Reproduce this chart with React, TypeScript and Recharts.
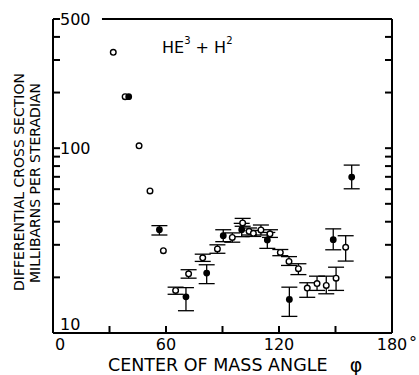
import { ScatterChart, Scatter, XAxis, YAxis, ErrorBar, ReferenceLine } from "recharts";

// open circles
const openAngles = [32, 38.3, 45.7, 51.5, 58.6, 65.1, 72, 79.5, 87.3, 95.2, 100.7, 104.1, 106.4, 110.4, 115.2, 120.7, 125.3, 130.3, 135, 140.2, 145.1, 150.3, 155.4];
const openValues = [330, 190, 103, 58.7, 27.9, 17, 20.9, 25.5, 28.5, 32.9, 39.4, 35.5, 34.6, 36.1, 34.4, 27.3, 24.4, 22.3, 17.5, 18.5, 18.1, 19.8, 29.1];
const openErrLow = [0, 0, 0, 0, 0, 0.8, 1.1, 1.1, 1.5, 1.9, 1.6, 1.6, 1.3, 2.2, 1.5, 1.1, 1.2, 1.6, 1.9, 1.5, 1.8, 2.8, 4.6];
const openErrHigh = [0, 0, 0, 0, 0, 0.7, 1.1, 1.2, 1.5, 1.9, 2.3, 1.5, 1.3, 2.3, 1.8, 1.0, 1.5, 1.4, 1.2, 1.8, 2.2, 2.9, 4.5];

// filled circles
const filledAngles = [40.2, 56.5, 70.6, 81.6, 90.4, 100.2, 113.8, 125.5, 148.8, 158.6];
const filledValues = [190, 36.2, 15.7, 21.1, 33.6, 36.2, 31.9, 15.2, 32, 69.8];
const filledErrLow = [0, 2.3, 2.5, 2.6, 2.4, 3.0, 3.2, 2.9, 3.8, 9.5];
const filledErrHigh = [0, 1.9, 1.9, 2.3, 2.6, 3.0, 3.1, 2.5, 4.6, 11.2];

const yTicks = [10, 20, 30, 40, 50, 60, 70, 80, 90, 100, 200, 300, 400, 500];
const yLabels = [10, 100, 500];
const xTicks = [0, 30, 60, 90, 120, 150, 180];
const xLabels = [0, 60, 120, 180];
const topTicks = [39, 60, 90, 120, 150];
const topLineStart = 26;

const FONT = "'DejaVu Sans', sans-serif";
const INK = "#000";
const TICK = 7;

const X_MIN = 0;
const X_MAX = 180;
const Y_MIN = 10;
const Y_MAX = 500;

const toRows = (angles: number[], values: number[], lo: number[], hi: number[]) =>
  angles.map((angle, i) => ({
    angle,
    value: values[i],
    err: lo[i] || hi[i] ? [lo[i], hi[i]] : undefined,
  }));

const openData = toRows(openAngles, openValues, openErrLow, openErrHigh);
const filledData = toRows(filledAngles, filledValues, filledErrLow, filledErrHigh);

// tickSize and tickMargin are 0, so x/y sit on the axis line; marks are drawn inward
const LeftTick = ({ x, y, payload }: any) => {
  const v = payload.value;
  return (
    <g>
      <path d={`M${x},${y}H${x + TICK}`} stroke={INK} strokeWidth={2} fill="none" />
      {yLabels.includes(v) && (
        <text x={x + 7} y={v === 10 ? y - 3 : y + 6} fontSize={16} fontFamily={FONT} fill={INK} stroke="none">
          {v}
        </text>
      )}
    </g>
  );
};

const RightTick = ({ x, y }: any) => (
  <path d={`M${x - TICK},${y}H${x}`} stroke={INK} strokeWidth={2} fill="none" />
);

const TopTick = ({ x, y }: any) => (
  <path d={`M${x},${y}V${y + TICK}`} stroke={INK} strokeWidth={2} fill="none" />
);

const BottomTick = ({ x, y, payload }: any) => {
  const v = payload.value;
  return (
    <g>
      <path d={`M${x},${y - TICK}V${y}`} stroke={INK} strokeWidth={2} fill="none" />
      {xLabels.includes(v) && (
        <text x={v === 0 ? x + 7 : x} y={y + 17} textAnchor="middle" fontSize={16} fontFamily={FONT} fill={INK} stroke="none">
          {v}
        </text>
      )}
      {v === 180 && (
        <text x={x + 21} y={y + 15} textAnchor="middle" fontSize={16} fontFamily={FONT} fill={INK} stroke="none">
          °
        </text>
      )}
    </g>
  );
};

const OpenDot = ({ cx, cy }: any) => (
  <circle cx={cx} cy={cy} r={2.8} fill="#fff" stroke={INK} strokeWidth={1.4} />
);

const FilledDot = ({ cx, cy }: any) => <circle cx={cx} cy={cy} r={3.4} fill={INK} />;

export default function App() {
  return (
    <div style={{ position: "absolute", left: 0, top: 0, width: 419, height: 375, background: "#fff" }}>
      <ScatterChart width={419} height={375} margin={{ top: 14, right: 17, bottom: 12, left: 0 }}>
        <XAxis
          dataKey="angle"
          type="number"
          domain={[X_MIN, X_MAX]}
          ticks={xTicks}
          interval={0}
          height={30}
          tickSize={0}
          tickMargin={0}
          tickLine={false}
          axisLine={{ stroke: INK, strokeWidth: 2 }}
          tick={<BottomTick />}
        />
        <XAxis
          xAxisId="top"
          orientation="top"
          type="number"
          domain={[X_MIN, X_MAX]}
          ticks={topTicks}
          interval={0}
          height={5}
          tickSize={0}
          tickMargin={0}
          tickLine={false}
          axisLine={false}
          tick={<TopTick />}
        />
        <YAxis
          dataKey="value"
          type="number"
          scale="log"
          domain={[Y_MIN, Y_MAX]}
          allowDataOverflow
          ticks={yTicks}
          interval={0}
          width={53}
          tickSize={0}
          tickMargin={0}
          tickLine={false}
          axisLine={{ stroke: INK, strokeWidth: 2 }}
          tick={<LeftTick />}
        />
        <YAxis
          yAxisId="right"
          orientation="right"
          type="number"
          scale="log"
          domain={[Y_MIN, Y_MAX]}
          allowDataOverflow
          ticks={yTicks}
          interval={0}
          width={10}
          tickSize={0}
          tickMargin={0}
          tickLine={false}
          axisLine={{ stroke: INK, strokeWidth: 2 }}
          tick={<RightTick />}
        />
        <ReferenceLine
          segment={[
            { x: topLineStart, y: Y_MAX },
            { x: X_MAX, y: Y_MAX },
          ]}
          stroke={INK}
          strokeWidth={2}
        />
        <Scatter data={openData} shape={<OpenDot />} isAnimationActive={false}>
          <ErrorBar dataKey="err" direction="y" width={8} stroke={INK} strokeWidth={1.3} isAnimationActive={false} />
        </Scatter>
        <Scatter data={filledData} shape={<FilledDot />} isAnimationActive={false}>
          <ErrorBar dataKey="err" direction="y" width={8} stroke={INK} strokeWidth={1.3} isAnimationActive={false} />
        </Scatter>
        <text x={162} y={53} fontSize={16} fontFamily={FONT} fill={INK}>
          HE
          <tspan dy={-9} fontSize={10}>3</tspan>
          <tspan dy={9}> + H</tspan>
          <tspan dy={-9} fontSize={10}>2</tspan>
        </text>
        <text
          transform="translate(19,182) rotate(-90)"
          textAnchor="middle"
          dominantBaseline="central"
          fontSize={14}
          fontFamily={FONT}
          fill={INK}
        >
          DIFFERENTIAL  CROSS SECTION
        </text>
        <text
          transform="translate(35,183) rotate(-90)"
          textAnchor="middle"
          dominantBaseline="central"
          fontSize={14}
          fontFamily={FONT}
          fill={INK}
        >
          MILLIBARNS PER STERADIAN
        </text>
        <text x={108} y={371} fontSize={17.5} fontFamily={FONT} fill={INK}>
          CENTER OF MASS ANGLE
        </text>
        <text x={356} y={372} textAnchor="middle" fontSize={19} fontFamily={FONT} fill={INK}>
          φ
        </text>
      </ScatterChart>
    </div>
  );
}
